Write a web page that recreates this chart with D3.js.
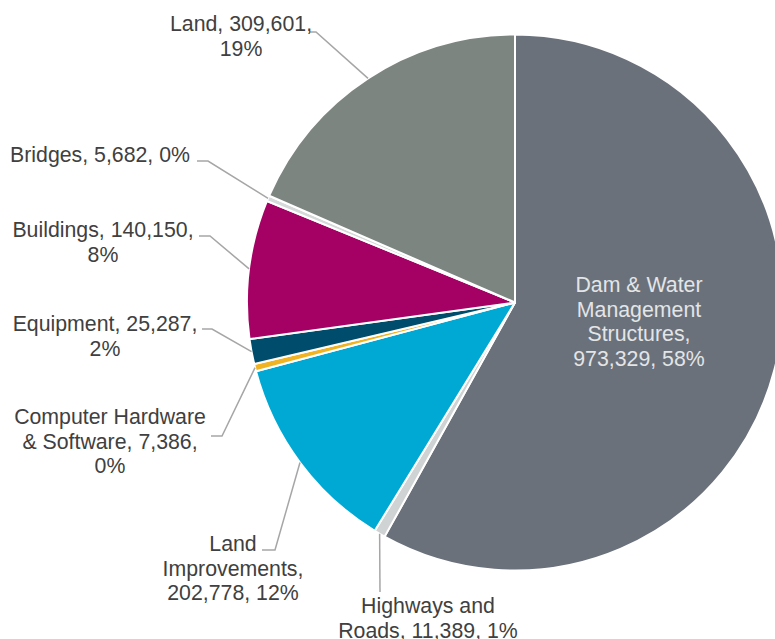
<!DOCTYPE html>
<html>
<head>
<meta charset="utf-8">
<script src="https://cdn.jsdelivr.net/npm/d3@7"></script>
<style>
  html, body { margin: 0; padding: 0; background: #fff; }
  svg { display: block; }
  text { font-family: "Liberation Sans", Arial, sans-serif; font-size: 21.3px; }
</style>
</head>
<body>
<script>
// Capital assets by class (clockwise from 12 o'clock)
const categories = [
  "Dam & Water Management Structures",
  "Highways and Roads",
  "Land Improvements",
  "Computer Hardware & Software",
  "Equipment",
  "Buildings",
  "Bridges",
  "Land"
];
const values = [973329, 11389, 202778, 7386, 25287, 140150, 5682, 309601];
// Reported share of total for each class
const shares = ["58%", "1%", "12%", "0%", "2%", "8%", "0%", "19%"];
const colors = ["#6a717a", "#d0d3d4", "#00a9d4", "#f0b323", "#004c6c", "#a50064", "#d6d9d9", "#7c8580"];

// Label text lines for each slice (value and share are filled in from the data)
const labelLines = [
  (v, p) => ["Dam & Water", "Management", "Structures,", `${v}, ${p}`],
  (v, p) => ["Highways and", `Roads, ${v}, ${p}`],
  (v, p) => ["Land", "Improvements,", `${v}, ${p}`],
  (v, p) => ["Computer Hardware", `& Software, ${v},`, p],
  (v, p) => [`Equipment, ${v},`, p],
  (v, p) => [`Buildings, ${v},`, p],
  (v, p) => [`Bridges, ${v}, ${p}`],
  (v, p) => [`Land, ${v},`, p]
];

// Label placement: text centre x, first baseline y, leader end & elbow
const labelLayout = [
  { x: 639, y: 292, inside: true },
  { x: 428, y: 613, end: [380, 592], elbow: [380, 592] },
  { x: 233, y: 551, end: [262, 550], elbow: [275, 550] },
  { x: 110, y: 424, end: [211, 436], elbow: [222, 436] },
  { x: 105, y: 331, end: [202, 329], elbow: [212, 329] },
  { x: 103, y: 237, end: [199, 236], elbow: [210, 236] },
  { x: 100, y: 162, end: [197, 161], elbow: [208, 161] },
  { x: 241, y: 31,  end: [310, 32],  elbow: [316, 32] }
];

const W = 775, H = 639;
const cx = 515, cy = 302.5, R = 268;
const lineH = 24.5;

const svg = d3.select("body").append("svg")
  .attr("width", W).attr("height", H);

const fmt = d3.format(",");

const pie = d3.pie().sort(null).value(d => d)(values);
const arc = d3.arc().innerRadius(0).outerRadius(R);

const g = svg.append("g").attr("transform", `translate(${cx},${cy})`);

g.selectAll("path.slice")
  .data(pie)
  .join("path")
  .attr("class", "slice")
  .attr("d", arc)
  .attr("fill", (d, i) => colors[i])
  .attr("stroke", "#fff")
  .attr("stroke-width", 2)
  .attr("stroke-linejoin", "round");

// Leader lines from the outer edge midpoint of each slice
pie.forEach((d, i) => {
  const L = labelLayout[i];
  if (L.inside) return;
  const a = (d.startAngle + d.endAngle) / 2;
  const px = cx + R * Math.sin(a), py = cy - R * Math.cos(a);
  svg.append("path")
    .attr("d", d3.line()([[px, py], L.elbow, L.end]))
    .attr("fill", "none")
    .attr("stroke", "#a6a6a6")
    .attr("stroke-width", 1.5);
});

// Labels
pie.forEach((d, i) => {
  const L = labelLayout[i];
  const lines = labelLines[i](fmt(values[i]), shares[i]);
  const t = svg.append("text")
    .attr("text-anchor", "middle")
    .attr("fill", L.inside ? "#e3e5e7" : "#404040");
  lines.forEach((s, k) => {
    t.append("tspan").attr("x", L.x).attr("y", L.y + k * lineH).text(s);
  });
});
</script>
</body>
</html>
